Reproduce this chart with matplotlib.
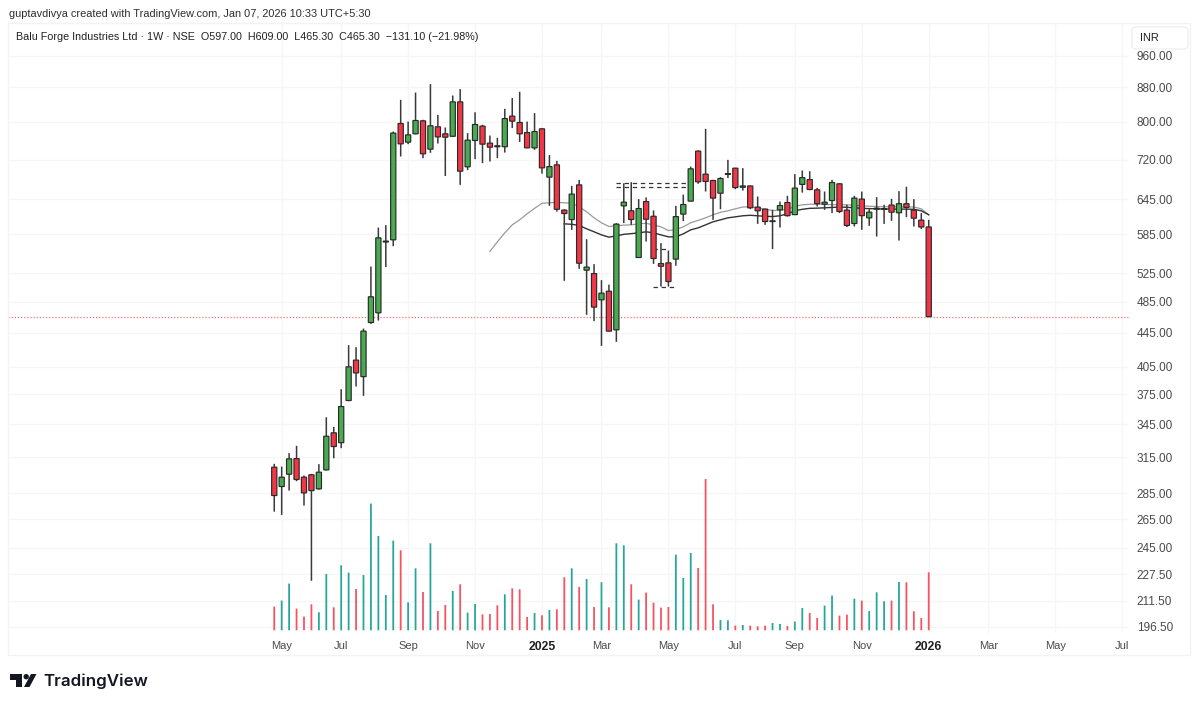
import matplotlib
matplotlib.use('Agg')
import matplotlib.pyplot as plt
from matplotlib.patches import Circle, Polygon, Rectangle, FancyBboxPatch
import numpy as np

# Weekly candles, one entry per week (May 2024 to Jan 2026), prices in INR
opens = [306.3, 290.3, 300.4, 313.7, 297.9, 299.9, 288.4, 304, 337, 327.9,
         368.6, 412.4, 393.9, 457.8, 470.3, 572.5, 576, 795.8, 755.6, 773.3,
         801.7, 741, 788.5, 773.3, 768, 845, 705.5, 759, 790, 753.5,
         748, 746, 812.2, 798, 776, 743.7, 784, 685.6, 709.4, 625.6,
         609.4, 671, 529.5, 524.5, 487.6, 499.4, 448.6, 633, 624.4, 548.4,
         640.6, 615, 539.2, 540.3, 546, 618.7, 641.4, 737, 691.3, 679.2,
         655.7, 691, 702.9, 666.6, 669, 630.8, 627.3, 606, 626.1, 638.9,
         617.8, 671.9, 681, 661.8, 636, 642.4, 673, 625.6, 602.7, 645,
         612.3, 627.3, 627.3, 634.4, 621, 636.8, 625.6, 608.4, 597]
highs = [309.2, 306.8, 318.5, 325, 299.3, 300.7, 308.9, 351.9, 342.6, 380.4,
         429.9, 427.5, 450.2, 534.8, 596, 600, 778.2, 849.8, 800, 867.2,
         804, 887.8, 815, 787, 860, 875.5, 774.8, 821, 793, 769.6,
         764.6, 828.9, 854, 869, 800, 819, 786, 729, 717.3, 627,
         669, 680.5, 577, 538.4, 515, 508.6, 603.4, 674, 676, 645,
         648, 625, 570.8, 559.1, 633, 653, 706, 738.5, 784, 680.5,
         685.6, 719.3, 703.5, 702.9, 670, 649.7, 628, 626.1, 640.6, 651,
         691.3, 698.3, 697, 665.5, 658.7, 680.5, 674, 634.9, 650.9, 658.7,
         627.3, 648.6, 634.9, 645.5, 659.4, 667.6, 645, 620.4, 609]
lows = [270.7, 268.3, 287, 294.6, 275.3, 223.4, 287.8, 303.5, 314, 322.9,
        368, 383.2, 373.4, 456, 460.3, 534, 566, 726, 751.4, 772,
        722.7, 733.5, 752.7, 687.8, 767, 671, 699, 720.7, 712.8, 716,
        722.7, 734, 785.7, 756, 743, 739.6, 692.3, 633, 623, 514,
        592.2, 531.4, 467.7, 459.6, 429, 446.5, 433.9, 603.4, 600.5, 548,
        573.3, 538.8, 505.9, 505.9, 536, 606.7, 641, 673, 658.7, 608.9,
        627.3, 683.8, 663, 660.5, 627.3, 602.1, 600.5, 561.3, 596, 614.4,
        617, 656.8, 661.2, 632, 626.1, 620.4, 620.4, 596.9, 597.7, 592.2,
        598.9, 581.3, 602.1, 607.2, 574.9, 613.4, 597.7, 593.7, 465.3]
closes = [283.1, 297.9, 313.5, 296, 285.2, 287, 302.1, 333.8, 324.4, 362.5,
          404.8, 398, 447, 491.7, 579.2, 574, 774.8, 752, 771, 802.4,
          731.5, 790.7, 766.7, 766, 845, 697, 759.8, 793.6, 751.4, 745.1,
          746, 806.8, 801, 773.3, 743.7, 778.2, 703.5, 706, 627, 619.7,
          654, 539.8, 534, 477.8, 496.7, 447, 601.7, 639.5, 609.4, 628.3,
          610, 546.9, 535.3, 513, 614.4, 635.4, 701.6, 676.8, 677.4, 646.8,
          683, 692.2, 666, 669, 629.6, 624.4, 606, 607.2, 633.6, 616,
          665, 684.7, 662.4, 637, 639.5, 675.4, 623.2, 599.4, 646.8, 616,
          622, 629, 628, 622, 636.8, 630.2, 611.7, 596.9, 465.3]
# Traded volume per week, thousands of shares (scale estimated)
volumes = [237, 297, 467, 217, 137, 260, 180, 563, 230, 650,
           577, 413, 553, 1267, 943, 353, 897, 800, 280, 620,
           383, 870, 193, 253, 393, 460, 177, 263, 160, 163,
           250, 360, 420, 410, 133, 173, 150, 203, 210, 530,
           620, 433, 513, 233, 480, 230, 870, 850, 460, 307,
           377, 277, 227, 233, 757, 523, 773, 623, 1513, 260,
           103, 100, 47, 53, 47, 40, 47, 73, 63, 43,
           87, 223, 173, 123, 247, 347, 147, 157, 317, 297,
           193, 380, 290, 297, 483, 480, 190, 123, 580]

# Moving averages, they begin later than the candles
ma_slow = [557.9, 572.8, 587.3, 600.5, 608.9, 619.2, 628.7, 637.5, 638.4, 639.3,
           638.4, 637.9, 631.4, 622.7, 612.3, 603.9, 597.7, 598.9, 600, 600.5,
           602.2, 603, 600.5, 597.2, 591, 592.7, 597.2, 603.9, 608, 612.3,
           617.5, 621.8, 624.4, 627.9, 631, 631.4, 629.6, 627, 624.9, 625.2,
           627, 632.3, 634.9, 635.8, 636.1, 635.6, 635.2, 634.9, 634.9, 634,
           633.1, 632.3, 631.9, 631.4, 631.4, 631.4, 631.4, 630.9, 627.9, 617.5]
ma_fast = [602.2, 601.4, 599.5, 593.9, 589, 584, 580.3, 582.4, 584.9, 586,
           587.3, 589, 587.3, 584, 580.8, 580.8, 585.7, 592.2, 595.5, 600.5,
           605.6, 608.9, 612.3, 614, 615.8, 616.6, 615.8, 614.9, 614.5, 615.8,
           619.2, 624.4, 627, 628.7, 629, 629.6, 630.3, 630.9, 630.5, 629.6,
           628.7, 628.2, 627.9, 627.5, 627.3, 627.3, 627.3, 627, 624.4, 617.5]

# Dashed levels: price, first week, last week
dash_prices = [674.8, 667.3, 561.3, 505.2]
dash_starts = [46, 46, 50.9, 50.9]
dash_ends = [55.6, 55.6, 52.9, 54]
last_price = 465.3

price_ticks = [960, 880, 800, 720, 645, 585, 525, 485, 445, 405,
               375, 345, 315, 285, 265, 245, 227.5, 211.5, 196.5]
week_ticks = [1, 9, 18, 27, 36, 44, 53, 62, 70, 79, 88, 96, 105, 114]
week_labels = ['May', 'Jul', 'Sep', 'Nov', '2025', 'Mar', 'May', 'Jul', 'Sep',
               'Nov', '2026', 'Mar', 'May', 'Jul']

GREEN = '#48ab50'
RED = '#f23645'
GRID = '#f6f6f6'
TEXT = '#4a4a4a'
W, H = 1200, 707

plt.rcParams['font.family'] = ['Liberation Sans', 'DejaVu Sans']

fig = plt.figure(figsize=(W / 100, H / 100), dpi=100)
ax = fig.add_axes([8 / W, 1 - 633 / H, 1121 / W, 610 / H])
ax_vol = ax.twinx()

x = np.arange(len(opens))
opens = np.array(opens)
closes = np.array(closes)
up = closes >= opens

# Price pane
ax.set_xlim(-35.8, 114.93)
ax.set_yscale('log')
ax.set_ylim(193.25, 1052)
ax.set_yticks(price_ticks)
ax.set_yticklabels([f'{p:.2f}' for p in price_ticks])
ax.minorticks_off()
ax.yaxis.tick_right()
ax.tick_params(axis='y', length=0, pad=5.5, labelsize=8.45, labelcolor=TEXT)
ax.set_xticks(week_ticks)
ax.set_xticklabels(week_labels)
ax.tick_params(axis='x', length=0, pad=6, labelsize=8.0, labelcolor=TEXT)
ax.grid(color=GRID, linewidth=1)
ax.set_axisbelow(True)
for label in ax.get_xticklabels():
    if label.get_text() in ('2025', '2026'):
        label.set_fontweight('bold')
        label.set_fontsize(8.8)
        label.set_color('#222222')

# Volume bars on their own linear scale
vol_bars = ax_vol.bar(x, volumes, width=0.24, color=np.where(up, '#26a69a', '#f7525f'))
for bar in vol_bars:
    bar.set_snap(False)
ax_vol.set_ylim(-27, 6073)
ax_vol.set_yticks([])
for axis in (ax, ax_vol):
    for spine in axis.spines.values():
        spine.set_visible(False)

ax.axhline(last_price, color=RED, linestyle=(0, (1, 1.5)), linewidth=0.9, alpha=0.7, zorder=1.5)

# Moving averages
ax.plot(x[-len(ma_slow):], ma_slow, color='#9a9a9a', linewidth=0.9, zorder=2)
ax.plot(x[-len(ma_fast):], ma_fast, color='#333333', linewidth=1.0, zorder=2)
ax.hlines(dash_prices, dash_starts, dash_ends, color='#333333', linewidth=0.9,
          linestyles=(0, (3.5, 3)), zorder=2)

# Candles
wicks = ax.vlines(x, lows, highs, color='#3a3a3a', linewidth=1.1, zorder=3)
wicks.set_snap(False)
body_low = np.minimum(opens, closes)
body_high = np.maximum(opens, closes)
bodies = ax.bar(x, body_high - body_low, bottom=body_low, width=0.7,
                color=np.where(up, GREEN, RED), edgecolor='#2a2a2a', linewidth=0.85, zorder=4)
for bar in bodies:
    bar.set_snap(False)


# Frame around chart and bits of page furniture, in pixel coordinates
def px(xp, yp):
    return xp / W, 1 - yp / H


fig.patches.append(Rectangle(px(8, 655), 1182 / W, 632 / H, transform=fig.transFigure,
                             fill=False, edgecolor='#f3f3f3', linewidth=1))
box_x, box_y = px(1132, 49)
fig.patches.append(FancyBboxPatch((box_x * W, box_y * H), 56, 22,
                                  boxstyle='round,pad=0,rounding_size=4',
                                  transform=None, facecolor='white',
                                  edgecolor='#f0f0f0', linewidth=1, zorder=5))

tx, ty = px(9, 14)
fig.text(tx, ty, 'guptavdivya created with TradingView.com, Jan 07, 2026 10:33 UTC+5:30',
         fontsize=7.9, color='#2e2e2e', va='center')
tx, ty = px(16, 37)
fig.text(tx, ty, 'Balu Forge Industries Ltd · 1W · NSE  O597.00  H609.00  L465.30  C465.30  \u2212131.10 (\u221221.98%)',
         fontsize=7.78, color='#222222', va='center')
tx, ty = px(1140, 38)
fig.text(tx, ty, 'INR', fontsize=7.9, color='#222222', va='center', zorder=6)

# TradingView logo mark and wordmark
logo = [Polygon([px(10, 674), px(22, 674), px(22, 687), px(16, 687), px(16, 680), px(10, 680)]),
        Polygon([px(31, 674), px(36.5, 674), px(29.5, 687), px(24, 687)])]
for shape in logo:
    shape.set(transform=fig.transFigure, facecolor='#131722', edgecolor='none')
    fig.patches.append(shape)
fig.patches.append(Circle((26.2, H - 676.7), 2.7, transform=None, facecolor='#131722', edgecolor='none'))
tx, ty = px(43, 681)
fig.text(tx, ty, 'TradingView', fontsize=12.2, fontfamily='Inter', fontweight='semibold',
         color='#131722', va='center')

fig.savefig('out.png', dpi=100)
